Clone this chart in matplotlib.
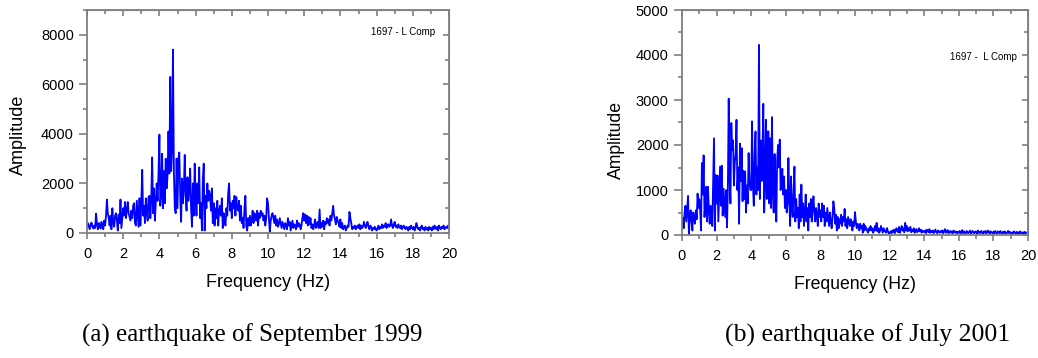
import numpy as np
import matplotlib
matplotlib.use("Agg")
import matplotlib.pyplot as plt
from matplotlib.ticker import MultipleLocator

plt.rcParams['font.family'] = ['Liberation Sans', 'DejaVu Sans']

# amplitude spectra sampled every 0.05 Hz from 0 to 20 Hz (one row = 1 Hz)
amp_1999 = [
    250, 400, 280, 150, 350, 420, 250, 180, 300, 200, 780, 350, 150, 400, 300, 180, 450, 250, 150, 500,
    300, 700, 1350, 800, 600, 300, 700, 150, 1000, 400, 250, 700, 800, 500, 100, 750, 400, 1350, 200, 600,
    1000, 700, 1250, 600, 900, 1250, 800, 650, 500, 900, 600, 1100, 1200, 400, 300, 1300, 800, 250, 1400, 300,
    1200, 2550, 700, 1100, 400, 1400, 900, 500, 1450, 1500, 600, 1400, 3050, 800, 1800, 500, 1200, 2000, 1300, 2400,
    3970, 1100, 1600, 3200, 1000, 2500, 1200, 3000, 1800, 2300, 4100, 2400, 6300, 2500, 3400, 7400, 2500, 1000, 800, 3000,
    1000, 3000, 3250, 1500, 450, 2200, 1200, 1800, 3150, 1500, 900, 2250, 1300, 1800, 2600, 1000, 250, 2000, 700, 2800,
    1500, 700, 2000, 1200, 2650, 600, 1200, 100, 2200, 2800, 100, 1500, 1000, 2000, 1300, 1700, 1500, 900, 1800, 400,
    1200, 300, 1000, 600, 1300, 300, 900, 1100, 700, 1400, 200, 800, 600, 300, 1000, 700, 1600, 2000, 900, 1200,
    600, 1300, 1000, 1500, 700, 1450, 1000, 900, 1300, 500, 1100, 400, 600, 200, 1000, 1500, 300, 100, 600, 300,
    700, 300, 500, 900, 400, 800, 700, 500, 900, 300, 800, 600, 900, 700, 800, 500, 700, 300, 600, 1400,
    1200, 600, 50, 500, 700, 800, 600, 400, 700, 300, 550, 250, 350, 600, 400, 200, 450, 300, 150, 400,
    300, 150, 600, 300, 450, 100, 300, 500, 200, 350, 300, 150, 500, 250, 400, 350, 150, 300, 600, 800,
    500, 750, 400, 700, 300, 650, 350, 600, 200, 350, 150, 300, 550, 200, 350, 450, 200, 950, 200, 400,
    250, 500, 150, 450, 350, 600, 400, 550, 300, 700, 500, 800, 1100, 700, 550, 350, 650, 500, 400, 250,
    550, 200, 400, 150, 250, 300, 100, 200, 300, 250, 850, 600, 400, 150, 250, 200, 300, 150, 250, 300,
    200, 350, 150, 300, 200, 250, 450, 300, 200, 350, 450, 250, 150, 300, 250, 100, 200, 150, 250, 150,
    100, 200, 300, 150, 250, 200, 350, 200, 300, 250, 400, 200, 300, 350, 250, 300, 550, 300, 200, 350,
    450, 250, 300, 200, 350, 250, 200, 300, 150, 250, 300, 200, 150, 250, 200, 100, 250, 150, 300, 200,
    150, 250, 100, 200, 400, 250, 150, 200, 100, 250, 300, 150, 200, 100, 250, 150, 200, 100, 250, 150,
    200, 100, 250, 150, 300, 200, 150, 250, 100, 300, 200, 150, 250, 200, 300, 150, 200, 250, 200, 300,
    200,
]

amp_2001 = [
    200, 380, 150, 500, 650, 300, 600, 870, 0, 400, 550, 300, 100, 500, 400, 250, 550, 350, 920, 600,
    800, 550, 100, 1600, 900, 1770, 400, 700, 1070, 300, 1070, 600, 250, 650, 500, 200, 1200, 2150, 100, 1330,
    700, 1320, 300, 900, 1520, 650, 1540, 430, 1030, 700, 400, 1000, 170, 1000, 3030, 1300, 700, 2490, 1900, 2100,
    1100, 1600, 1800, 2560, 1000, 1500, 250, 2030, 1200, 1930, 750, 1430, 800, 1410, 500, 1100, 700, 1820, 1200, 1000,
    1000, 2525, 1100, 650, 1800, 2300, 900, 1500, 1000, 4225, 800, 2100, 1200, 1800, 2915, 500, 1200, 2560, 800, 2300,
    2300, 700, 2150, 600, 2620, 1000, 500, 1800, 1200, 300, 1650, 2000, 1500, 2120, 1000, 1200, 1470, 900, 1300, 600,
    1000, 500, 700, 1710, 800, 200, 1300, 600, 400, 1000, 1520, 300, 800, 400, 600, 150, 900, 300, 1120, 400,
    700, 200, 500, 900, 300, 600, 100, 700, 400, 800, 300, 600, 860, 500, 300, 600, 450, 200, 700, 400,
    550, 300, 700, 400, 650, 200, 500, 300, 600, 400, 200, 500, 300, 150, 400, 750, 600, 250, 450, 100,
    400, 150, 350, 250, 450, 200, 400, 300, 580, 200, 350, 150, 400, 300, 200, 350, 250, 100, 300, 200,
    510, 300, 150, 250, 200, 100, 250, 150, 200, 50, 250, 100, 200, 150, 100, 50, 150, 100, 200, 100,
    150, 50, 100, 200, 100, 270, 80, 150, 50, 100, 200, 120, 50, 150, 80, 100, 50, 155, 80, 40,
    45, 80, 40, 100, 60, 120, 40, 100, 150, 80, 60, 180, 50, 120, 200, 100, 150, 60, 270, 100,
    200, 80, 150, 100, 180, 60, 120, 80, 150, 50, 100, 130, 60, 90, 150, 80, 120, 50, 100, 80,
    60, 100, 40, 120, 80, 60, 130, 50, 90, 60, 100, 40, 80, 120, 60, 40, 100, 70, 50, 90,
    60, 100, 40, 80, 130, 50, 70, 110, 40, 60, 90, 50, 80, 40, 100, 60, 50, 80, 40, 70,
    50, 90, 30, 60, 110, 40, 80, 50, 30, 90, 60, 40, 70, 100, 30, 60, 90, 50, 40, 80,
    60, 30, 100, 50, 70, 40, 90, 60, 30, 80, 50, 90, 40, 60, 100, 50, 30, 80, 60, 40,
    70, 40, 90, 50, 30, 80, 60, 40, 90, 50, 30, 70, 40, 80, 50, 30, 60, 90, 40, 70,
    50, 30, 60, 40, 80, 50, 30, 70, 40, 60, 30, 80, 50, 40, 60, 30, 70, 40, 50, 60,
    60,
]

freq = np.linspace(0, 20, len(amp_1999))

captions = ["(a) earthquake of September 1999", "(b) earthquake of July 2001"]
station = ["1697 - L Comp", "1697 -  L Comp"]

gray = '#7f7f7f'

fig = plt.figure(figsize=(10.38, 3.58), dpi=100)
ax1 = fig.add_axes([87 / 1038, 125 / 358, 362 / 1038, 223 / 358])
ax2 = fig.add_axes([682 / 1038, 123 / 358, 346 / 1038, 225 / 358])


def style(ax, ymax, ymajor, yminor):
    ax.set_xlim(0, 20)
    ax.set_ylim(0, ymax)
    ax.xaxis.set_major_locator(MultipleLocator(2))
    ax.xaxis.set_minor_locator(MultipleLocator(1))
    ax.yaxis.set_major_locator(MultipleLocator(ymajor))
    ax.yaxis.set_minor_locator(MultipleLocator(yminor))
    for s in ax.spines.values():
        s.set_color(gray)
        s.set_linewidth(1.3)
    ax.tick_params(axis='y', which='major', direction='out', length=6, width=1.2,
                   color=gray, labelsize=10.5, pad=3.5)
    ax.tick_params(axis='y', which='minor', direction='out', length=3, width=1.2, color=gray)
    ax.tick_params(axis='x', which='major', direction='out', length=4, width=1.2,
                   color=gray, labelsize=10.5, pad=6)
    ax.tick_params(axis='x', which='minor', direction='out', length=3, width=1.2, color=gray)

    # mirrored ticks pointing inwards on top and right
    top = ax.secondary_xaxis('top')
    top.xaxis.set_major_locator(MultipleLocator(2))
    top.xaxis.set_minor_locator(MultipleLocator(1))
    top.tick_params(which='major', direction='in', length=4.5, width=1.2, color=gray, labeltop=False)
    top.tick_params(which='minor', direction='in', length=3, width=1.2, color=gray)
    top.spines['top'].set_color(gray)
    right = ax.secondary_yaxis('right')
    right.yaxis.set_major_locator(MultipleLocator(ymajor))
    right.yaxis.set_minor_locator(MultipleLocator(yminor))
    right.tick_params(which='major', direction='in', length=4.5, width=1.2, color=gray, labelright=False)
    right.tick_params(which='minor', direction='in', length=3, width=1.2, color=gray)
    right.spines['right'].set_color(gray)


ax1.plot(freq, amp_1999, color='#0000ff', lw=1.3)
style(ax1, 9000, 2000, 1000)
ax1.text(0.5, -0.22, 'Frequency (Hz)', transform=ax1.transAxes, ha='center', va='center', fontsize=13)
ax1.text(-0.19, 0.44, 'Amplitude', transform=ax1.transAxes, ha='center', va='center',
         rotation=90, fontsize=13)
ax1.text(0.961, 0.901, station[0], transform=ax1.transAxes, ha='right', va='center', fontsize=7)

ax2.plot(freq, amp_2001, color='#0000ff', lw=1.3)
style(ax2, 5000, 1000, 500)
ax2.text(0.5, -0.222, 'Frequency (Hz)', transform=ax2.transAxes, ha='center', va='center', fontsize=12.7)
ax2.text(-0.188, 0.422, 'Amplitude', transform=ax2.transAxes, ha='center', va='center',
         rotation=90, fontsize=12.7)
ax2.text(0.968, 0.791, station[1], transform=ax2.transAxes, ha='right', va='center', fontsize=7)

fig.text(252 / 1038, 1 - 335 / 358, captions[0], ha='center', va='center',
         family='Liberation Serif', fontsize=18)
fig.text(868 / 1038, 1 - 335 / 358, captions[1], ha='center', va='center',
         family='Liberation Serif', fontsize=18.5)

fig.savefig('out.png', dpi=100)
